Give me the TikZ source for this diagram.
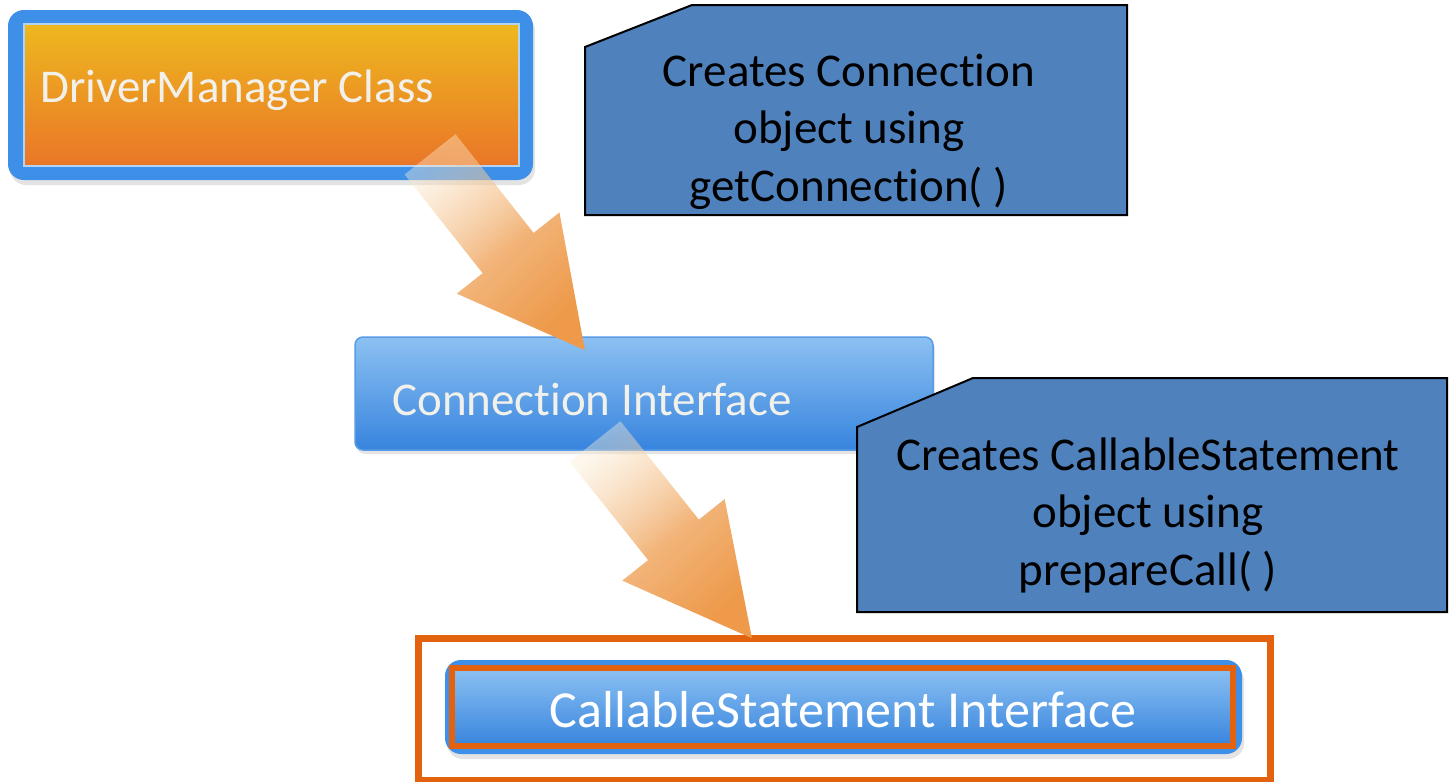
\documentclass[tikz,border=0pt]{standalone}
\usepackage{fontspec}
\setmainfont{Carlito}[Ligatures=NoCommon]
\usetikzlibrary{calc,shadows,fadings}
\definecolor{boxblue}{HTML}{3D8FE8}
\definecolor{liteblue}{HTML}{8CC1F2}
\definecolor{midblue}{HTML}{7AB5EF}
\definecolor{deepblue}{HTML}{3784DE}
\definecolor{dmtop}{HTML}{EDB81E}
\definecolor{dmmid}{HTML}{E9A023}
\definecolor{dmbot}{HTML}{EA7628}
\definecolor{calloutblue}{HTML}{4F81BD}
\definecolor{frameorange}{HTML}{E2620E}
\definecolor{arroworange}{HTML}{EE9A4A}
\definecolor{arrowcream}{HTML}{FDF3DE}
\definecolor{boxtext}{HTML}{F2F0EA}
\definecolor{innerline}{HTML}{B3D3F3}
\definecolor{connline}{HTML}{5A9BE6}
\pgfdeclareverticalshading{arrowshade}{100bp}{color(0bp)=(arroworange); color(47bp)=(arroworange); color(62bp)=(arroworange!55!arrowcream); color(78bp)=(arrowcream); color(100bp)=(arrowcream)}
\tikzfading[name=arrowfade, top color=transparent!60, middle color=transparent!10, bottom color=transparent!0]
\newcommand\drawblockarrow[2]{%
  \coordinate (#1-head) at ($(#1)!126pt!(#2)$);
  \shade[blockarrow] ($(#1)!32.5pt!90:(#2)$) -- ($(#1-head)!32.5pt!90:(#2)$) -- ($(#1-head)!65.5pt!90:(#2)$) -- (#2)
    -- ($(#1-head)!65.5pt!-90:(#2)$) -- ($(#1-head)!32.5pt!-90:(#2)$) -- ($(#1)!32.5pt!-90:(#2)$) -- cycle;}
\tikzset{
  outerbluebox/.style={rectangle, rounded corners=16pt, fill=boxblue, draw=none, inner sep=0pt,
    drop shadow={opacity=0.22, shadow xshift=2pt, shadow yshift=-5pt}},
  dmbox/.style={rectangle, inner sep=0pt, draw=innerline, line width=2pt,
    top color=dmtop, middle color=dmmid, bottom color=dmbot},
  connbox/.style={rectangle, rounded corners=8pt, inner sep=0pt, draw=connline, line width=1.5pt,
    top color=liteblue, middle color=midblue, bottom color=deepblue,
    drop shadow={opacity=0.2, shadow xshift=2pt, shadow yshift=-4pt}},
  csbox/.style={rectangle, inner sep=0pt, draw=frameorange, line width=6pt,
    top color=liteblue, middle color=midblue, bottom color=deepblue},
  frame/.style={rectangle, inner sep=0pt, draw=frameorange, line width=7pt, fill=none},
  boxlabel/.style={inner sep=0pt, text=boxtext, font=\fontsize{47}{56}\selectfont},
  callout/.style={fill=calloutblue, draw=black, line width=2pt, line join=miter},
  callouttext/.style={inner sep=0pt, align=center, text=black, font=\fontsize{47}{57.5}\selectfont},
  blockarrow/.style={shading=arrowshade, shading angle=38.3, path fading=arrowfade, fading angle=38.3}
}
\begin{document}
\begin{tikzpicture}[x=1pt,y=-1pt]
\useasboundingbox[fill=white] (0,0) rectangle (1449,782);

% DriverManager box
\node[outerbluebox, minimum width=525pt, minimum height=170pt] (dmouter) at (270.5,95) {};
\node[dmbox, minimum width=495pt, minimum height=142pt] (dm) at (271.5,95) {};
\node[boxlabel, anchor=base west] (dmlabel) at (40,102) {DriverManager Class};

% Callout 1
\coordinate (c1a) at (585,47);
\coordinate (c1b) at (692,5);
\coordinate (c1c) at (1127,5);
\coordinate (c1d) at (1127,215);
\coordinate (c1e) at (585,215);
\filldraw[callout] (c1a) -- (c1b) -- (c1c) -- (c1d) -- (c1e) -- cycle;
\node[callouttext, anchor=base] (c1text) at (849,201) {Creates Connection\\object using\\getConnection( )};

% Connection Interface box
\node[connbox, minimum width=578pt, minimum height=113pt] (conn) at (644,393.5) {};
\node[boxlabel, anchor=base west] (connlabel) at (392,415) {Connection Interface};

% Callout 2
\coordinate (c2a) at (857,427);
\coordinate (c2b) at (973,378);
\coordinate (c2c) at (1447,378);
\coordinate (c2d) at (1447,612);
\coordinate (c2e) at (857,612);
\filldraw[callout] (c2a) -- (c2b) -- (c2c) -- (c2d) -- (c2e) -- cycle;
\node[callouttext, anchor=base] (c2text) at (1148,585) {Creates CallableStatement\\object using\\prepareCall( )};

% CallableStatement Interface
\node[frame, minimum width=852pt, minimum height=142pt] (csframe) at (844,709) {};
\node[outerbluebox, minimum width=797pt, minimum height=94pt] (csouter) at (843.5,707) {};
\node[csbox, minimum width=781pt, minimum height=78pt] (cs) at (842.5,707) {};
\node[boxlabel, text=white, font=\fontsize{52}{60}\selectfont, anchor=base] (cslabel) at (843,727) {CallableStatement Interface};

% block arrows
\coordinate (a1tail) at (430,154);
\coordinate (a1tip) at (585,350);
\drawblockarrow{a1tail}{a1tip}
\coordinate (a2tail) at (595,441);
\coordinate (a2tip) at (752,638);
\drawblockarrow{a2tail}{a2tip}
\end{tikzpicture}
\end{document}
